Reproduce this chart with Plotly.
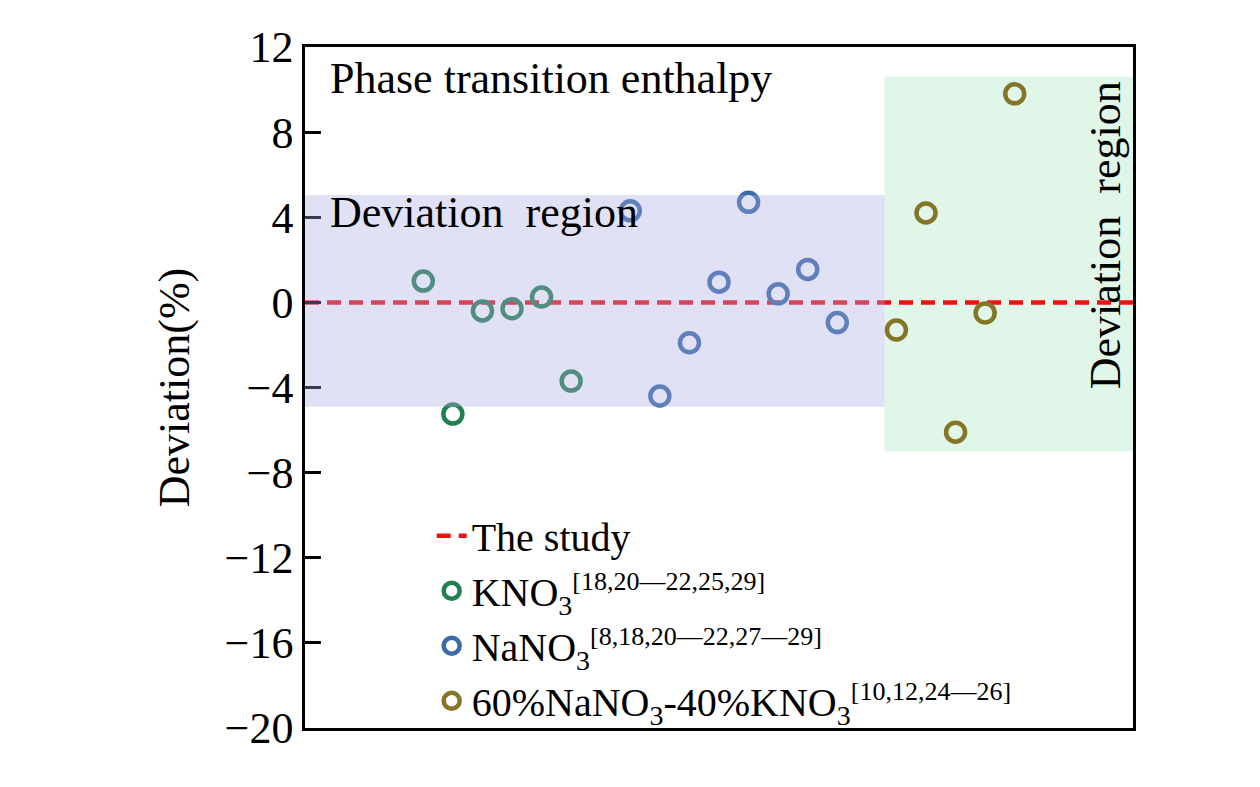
import plotly.graph_objects as go

# sample index along the (unlabelled) x axis and deviation in %
kno3_x = [4, 5, 6, 7, 8, 9]
kno3_y = [1.0, -5.25, -0.4, -0.3, 0.25, -3.7]

nano3_x = [11, 12, 13, 14, 15, 16, 17, 18]
nano3_y = [4.3, -4.4, -1.9, 0.95, 4.7, 0.4, 1.55, -0.95]

mix_x = [20, 21, 22, 23, 24]
mix_y = [-1.3, 4.2, -6.1, -0.5, 9.8]

study_x = [0, 28]
study_y = [0, 0]

y_ticks = [12, 8, 4, 0, -4, -8, -12, -16, -20]

FONT = "Liberation Serif"


def sup(s):
    return '<sup><span style="font-size:26px">' + s + '</span></sup>'


fig = go.Figure()

fig.add_trace(go.Scatter(
    x=study_x, y=study_y, mode="lines", name="The study",
    line=dict(color="#f01010", width=4.5, dash="14px,8px"),
))

marker_style = dict(symbol="circle-open", size=19)
fig.add_trace(go.Scatter(
    x=kno3_x, y=kno3_y, mode="markers",
    name="KNO<sub>3</sub>" + sup("[18,20\u201422,25,29]"),
    marker=dict(color="#22804e", line=dict(width=4.5, color="#22804e"), **marker_style),
))
fig.add_trace(go.Scatter(
    x=nano3_x, y=nano3_y, mode="markers",
    name="NaNO<sub>3</sub>" + sup("[8,18,20\u201422,27\u201429]"),
    marker=dict(color="#3a6aa8", line=dict(width=4.5, color="#3a6aa8"), **marker_style),
))
fig.add_trace(go.Scatter(
    x=mix_x, y=mix_y, mode="markers",
    name="60%NaNO<sub>3</sub>-40%KNO<sub>3</sub>" + sup("[10,12,24\u201426]"),
    marker=dict(color="#857526", line=dict(width=4.5, color="#857526"), **marker_style),
))

# shaded deviation regions
fig.add_shape(type="rect", x0=19.6, x1=28, y0=-7.0, y1=10.6, layer="below",
              fillcolor="rgba(150,225,180,0.3)", line_width=0)
fig.add_shape(type="rect", x0=0, x1=19.6, y0=-4.9, y1=5.05, layer="above",
              fillcolor="rgba(170,170,225,0.35)", line_width=0)

fig.add_annotation(text="Phase transition enthalpy", x=0.028, xref="paper", y=10.5, yref="y",
                   xanchor="left", yanchor="middle", showarrow=False,
                   font=dict(family=FONT, size=44, color="black"))
fig.add_annotation(text="Deviation&nbsp; region", x=0.028, xref="paper", y=4.2, yref="y",
                   xanchor="left", yanchor="middle", showarrow=False,
                   font=dict(family=FONT, size=44, color="black"))
fig.add_annotation(text="Deviation&nbsp; region", x=27.05, y=3.15, textangle=-90,
                   xanchor="center", yanchor="middle", showarrow=False,
                   font=dict(family=FONT, size=44, color="black"))

fig.update_xaxes(range=[0, 28], showticklabels=False, ticks="", showgrid=False,
                 zeroline=False, showline=True, linecolor="black", linewidth=2.5, mirror=True)
fig.update_yaxes(range=[-20, 12], tickvals=y_ticks,
                 ticktext=[str(v).replace("-", "\u2212") for v in y_ticks],
                 ticks="inside", ticklen=16, tickwidth=2.5, tickcolor="black",
                 showgrid=False, zeroline=False, showline=True, linecolor="black",
                 linewidth=2.5, mirror=True,
                 title=dict(text="Deviation(%)", standoff=22, font=dict(family=FONT, size=44)),
                 tickfont=dict(family=FONT, size=44, color="black"))

fig.update_layout(
    width=1260, height=787,
    margin=dict(l=297, r=135, t=39, b=67),
    plot_bgcolor="white", paper_bgcolor="white",
    font=dict(family=FONT, size=44, color="black"),
    legend=dict(x=0.153, y=0.33, xanchor="left", yanchor="top", bgcolor="rgba(0,0,0,0)",
                font=dict(family=FONT, size=40, color="black"), tracegroupgap=0),
)

fig.write_html("out.html")
